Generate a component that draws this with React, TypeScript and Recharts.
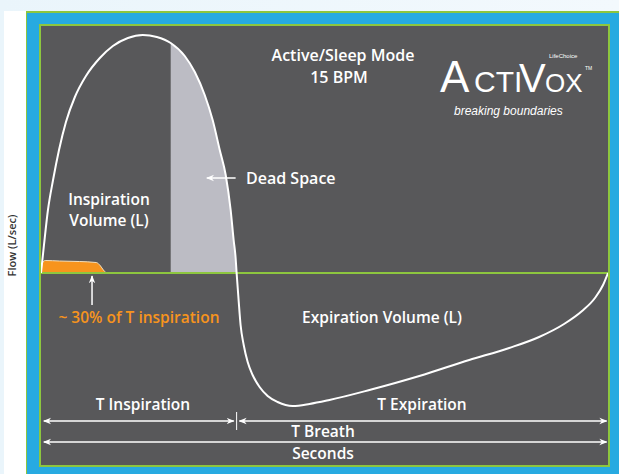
import { ComposedChart, Line, Area, XAxis, YAxis, ReferenceLine } from "recharts";

// One breath at 15 BPM: time in seconds, flow in L/sec
const breathTime = [
  0, 0.021, 0.049, 0.085, 0.127, 0.176, 0.239, 0.317, 0.415, 0.507, 0.613, 0.718,
  0.817, 0.915, 1.014, 1.085, 1.155, 1.211, 1.261, 1.303, 1.338, 1.359, 1.373, 1.38,
  1.394, 1.408, 1.43, 1.458, 1.493, 1.542, 1.599, 1.669, 1.775, 1.894, 2.035, 2.317,
  2.669, 3.021, 3.303, 3.514, 3.69, 3.817, 3.908, 3.965, 4.0,
];
const breathFlow = [
  0, 0.28, 0.63, 0.93, 1.23, 1.51, 1.76, 1.97, 2.15, 2.27, 2.35, 2.38,
  2.36, 2.3, 2.17, 2.01, 1.78, 1.53, 1.23, 0.98, 0.63, 0.33, 0.15, 0,
  -0.27, -0.52, -0.72, -0.89, -1.02, -1.14, -1.23, -1.29, -1.33, -1.31, -1.27, -1.17,
  -1.03, -0.87, -0.75, -0.64, -0.51, -0.38, -0.25, -0.12, 0,
];

// dead space: tail of the inspiration
const deadTime = [0.915, 1.014, 1.085, 1.155, 1.211, 1.261, 1.303, 1.338, 1.359, 1.373, 1.38];
const deadFlow = [2.3, 2.17, 2.01, 1.78, 1.53, 1.23, 0.98, 0.63, 0.33, 0.15, 0];

// oxygen pulse, ~30% of T inspiration
const pulseTime = [0, 0.01, 0.03, 0.13, 0.27, 0.39, 0.42, 0.44, 0.46];
const pulseFlow = [0, 0.1, 0.125, 0.12, 0.115, 0.105, 0.07, 0.03, 0];

const tInspiration = 1.38;
const tBreath = 4;

const curveData = breathTime.map((t, i) => ({ t, flow: breathFlow[i] }));
const deadData = deadTime.map((t, i) => ({ t, flow: deadFlow[i] }));
const pulseData = pulseTime.map((t, i) => ({ t, flow: pulseFlow[i] }));

const FONT = "'Open Sans', 'DejaVu Sans', sans-serif";

function Overlay() {
  const txt = { fill: "#fff", fontFamily: FONT, fontWeight: 600, fontSize: 15.5 } as const;
  const big = { ...txt, fontSize: 16 };
  return (
    <svg width={619} height={474} style={{ position: "absolute", left: 0, top: 0, pointerEvents: "none" }}>
      <defs>
        <marker id="arrowHead" viewBox="0 0 10 10" refX="9" refY="5" markerWidth="8" markerHeight="8"
          markerUnits="userSpaceOnUse" orient="auto-start-reverse">
          <path d="M0,1 L10,5 L0,9 L3,5 Z" fill="#fff" />
        </marker>
      </defs>
      <text x={343} y={61} textAnchor="middle" {...big}>Active/Sleep Mode</text>
      <text x={339} y={83} textAnchor="middle" {...big}>15 BPM</text>
      <text x={246} y={184} {...big}>Dead Space</text>
      <text x={109} y={205} textAnchor="middle" {...txt}>Inspiration</text>
      <text x={109} y={226} textAnchor="middle" {...txt}>Volume (L)</text>
      <text x={139} y={323} textAnchor="middle" {...txt} fill="#f7941d">~ 30% of T inspiration</text>
      <text x={382} y={323} textAnchor="middle" {...txt}>Expiration Volume (L)</text>
      <text x={143} y={410} textAnchor="middle" {...txt}>T Inspiration</text>
      <text x={422} y={410} textAnchor="middle" {...txt}>T Expiration</text>
      <text x={323} y={437} textAnchor="middle" {...txt}>T Breath</text>
      <text x={323} y={459} textAnchor="middle" {...txt}>Seconds</text>

      {/* logo */}
      <g fill="#fff" fontFamily="'Liberation Sans', sans-serif">
        <text x={440} y={92} fontSize={44} fontWeight={300}>A</text>
        <text x={474} y={92} fontSize={30}>CTI</text>
        <text x={519} y={92} fontSize={40}>V</text>
        <text x={545} y={92} fontSize={26}>OX</text>
        <text x={549} y={58} fontSize={6}>LifeChoice</text>
        <text x={585} y={70} fontSize={5}>TM</text>
        <text x={454} y={115} fontSize={12} fontStyle="italic">breaking boundaries</text>
      </g>
    </svg>
  );
}

export default function App() {
  return (
    <div style={{ position: "relative", width: 619, height: 474, overflow: "hidden",
      background: "linear-gradient(to right, #eaf5fb, #f3f9fd)" }}>
      <style>{"body{margin:0}"}</style>
      <div style={{ position: "absolute", left: 4, top: 11, width: 22, height: 463, background: "#fff" }} />
      <div style={{ position: "absolute", left: 26, top: 11, width: 593, height: 463, background: "#27aae1",
        borderLeft: "1px solid #8dc63f", borderTop: "2px solid #8dc63f", boxSizing: "border-box" }} />
      <div style={{ position: "absolute", left: 39, top: 24, width: 571, height: 443, background: "#58585a",
        border: "2px solid #8dc63f", boxSizing: "border-box" }} />
      <div style={{ position: "absolute", left: 0, top: 0 }}>
        <ComposedChart width={619} height={474} margin={{ top: 26, right: 11, bottom: 9, left: 0 }}>
          <XAxis type="number" dataKey="t" domain={[0, tBreath]} hide allowDataOverflow />
          <YAxis type="number" domain={[-1.92, 2.47]} width={41} tick={false} axisLine={false} tickLine={false}
            allowDataOverflow
            label={{ value: "Flow (L/sec)", angle: -90, position: "insideLeft", offset: 12,
              style: { fill: "#333", fontFamily: FONT, fontWeight: 600, fontSize: 11, textAnchor: "middle" } }} />
          <Area data={deadData} dataKey="flow" type="monotone" fill="#bcbcc4" fillOpacity={1} stroke="none"
            baseValue={0} isAnimationActive={false} />
          <Area data={pulseData} dataKey="flow" type="monotone" fill="#f7941d" fillOpacity={1} stroke="#f2dfbd"
            strokeWidth={1} baseValue={0} isAnimationActive={false} />
          <ReferenceLine y={0} stroke="#8dc63f" strokeWidth={2} />
          <Line data={curveData} dataKey="flow" type="monotone" stroke="#fff" strokeWidth={2} dot={false}
            isAnimationActive={false} />
          <ReferenceLine segment={[{ x: 1.373, y: 0.95 }, { x: 1.17, y: 0.95 }]} stroke="#fff" strokeWidth={1.5}
            markerEnd="url(#arrowHead)" />
          <ReferenceLine segment={[{ x: 0.36, y: -0.32 }, { x: 0.36, y: -0.03 }]} stroke="#fff" strokeWidth={1.5}
            markerEnd="url(#arrowHead)" />
          <ReferenceLine segment={[{ x: 0.02, y: -1.48 }, { x: tInspiration - 0.02, y: -1.48 }]} stroke="#fff"
            strokeWidth={1.5} markerStart="url(#arrowHead)" markerEnd="url(#arrowHead)" />
          <ReferenceLine segment={[{ x: tInspiration + 0.02, y: -1.48 }, { x: tBreath - 0.01, y: -1.48 }]}
            stroke="#fff" strokeWidth={1.5} markerStart="url(#arrowHead)" markerEnd="url(#arrowHead)" />
          <ReferenceLine segment={[{ x: tInspiration, y: -1.39 }, { x: tInspiration, y: -1.57 }]} stroke="#fff"
            strokeWidth={1} />
          <ReferenceLine segment={[{ x: 0.02, y: -1.69 }, { x: tBreath - 0.01, y: -1.69 }]} stroke="#fff"
            strokeWidth={1.5} markerStart="url(#arrowHead)" markerEnd="url(#arrowHead)" />
        </ComposedChart>
      </div>
      <Overlay />
    </div>
  );
}
